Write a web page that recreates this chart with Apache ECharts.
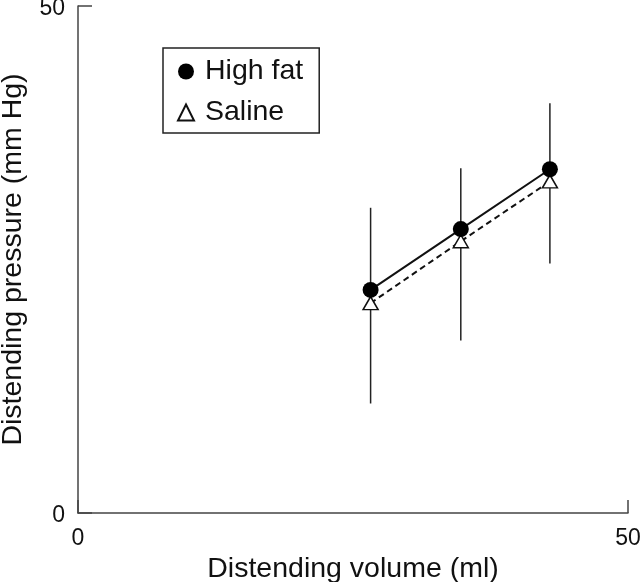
<!DOCTYPE html>
<html>
<head>
<meta charset="utf-8">
<script src="https://cdn.jsdelivr.net/npm/echarts@6/dist/echarts.min.js"></script>
<style>html,body{margin:0;padding:0;background:#fff}#c{width:640px;height:582px}</style>
</head>
<body>
<div id="c"></div>
<script>
var volumes = [26.6, 34.8, 42.9];
var highFat = [22.0, 28.0, 33.9];
var saline = [20.7, 26.8, 32.7];
var errHigh = [30.1, 34.0, 40.4];
var errLow = [10.8, 17.0, 24.6];
var axisTicks = [0, 50];

var font = '"Liberation Sans", Arial, Helvetica, sans-serif';
var chart = echarts.init(document.getElementById('c'), null, {renderer: 'canvas'});

function pairs(xs, ys) { return xs.map(function (x, i) { return [x, ys[i]]; }); }
var errData = volumes.map(function (x, i) { return [x, errLow[i], errHigh[i]]; });

chart.setOption({
  animation: false,
  backgroundColor: '#fff',
  grid: {left: 78, right: 12, top: 6, bottom: 69, containLabel: false, outerBoundsMode: 'none'},
  legend: {
    left: 163, top: 48, orient: 'vertical',
    borderColor: '#222', borderWidth: 1.5,
    padding: [9, 16, 6, 14],
    itemGap: 12, itemWidth: 16, itemHeight: 16,
    textStyle: {fontFamily: font, fontSize: 28.5, color: '#111', lineHeight: 28, padding: [0, 0, 0, 6]},
    data: [{name: 'High fat', icon: 'circle'}, {name: 'Saline', icon: 'triangle'}]
  },
  xAxis: {
    type: 'value', min: axisTicks[0], max: axisTicks[1], interval: 50,
    name: 'Distending volume (ml)', nameLocation: 'middle', nameGap: 38,
    nameTextStyle: {fontFamily: font, fontSize: 28.5, color: '#111'},
    axisLine: {lineStyle: {color: '#444', width: 1.5}},
    axisTick: {inside: true, length: 13, lineStyle: {color: '#444', width: 1.5}},
    axisLabel: {fontFamily: font, fontSize: 23, color: '#111', margin: 14},
    splitLine: {show: false}
  },
  yAxis: {
    type: 'value', min: axisTicks[0], max: axisTicks[1], interval: 50,
    name: 'Distending pressure (mm Hg)', nameLocation: 'middle', nameGap: 50,
    nameTextStyle: {fontFamily: font, fontSize: 28.5, color: '#111'},
    axisLine: {lineStyle: {color: '#444', width: 1.5}},
    axisTick: {inside: true, length: 14, lineStyle: {color: '#444', width: 1.5}},
    axisLabel: {
      margin: 13, formatter: '{v|{value}}',
      rich: {v: {fontFamily: font, fontSize: 23, color: '#111', padding: [6, 0, 0, 0]}}
    },
    splitLine: {show: false}
  },
  series: [
    {
      type: 'custom', name: 'err', z: 1,
      data: errData,
      renderItem: function (params, api) {
        var p1 = api.coord([api.value(0), api.value(1)]);
        var p2 = api.coord([api.value(0), api.value(2)]);
        return {type: 'line', shape: {x1: p1[0], y1: p1[1], x2: p2[0], y2: p2[1]},
          style: {stroke: '#222', lineWidth: 1.5}};
      }
    },
    {
      type: 'line', name: 'Saline', z: 3,
      data: pairs(volumes, saline),
      symbol: 'triangle', symbolSize: [15, 13], showAllSymbol: true,
      lineStyle: {color: '#111', width: 2, type: [6, 4]},
      itemStyle: {color: '#fff', borderColor: '#111', borderWidth: 1.5}
    },
    {
      type: 'line', name: 'High fat', z: 4,
      data: pairs(volumes, highFat),
      symbol: 'circle', symbolSize: 16, showAllSymbol: true,
      lineStyle: {color: '#111', width: 2},
      itemStyle: {color: '#000', borderColor: '#000', borderWidth: 0}
    }
  ]
});
</script>
</body>
</html>
